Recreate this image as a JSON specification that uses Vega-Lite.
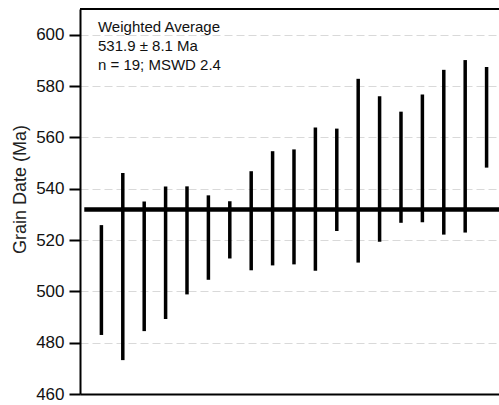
{
  "$schema": "https://vega.github.io/schema/vega-lite/v6.json",
  "autosize": {"type": "none"},
  "padding": {"left": 80, "top": 9, "right": 0, "bottom": 11},
  "width": 419,
  "height": 385,
  "background": "white",
  "config": {
    "view": {"stroke": null},
    "font": "Liberation Sans"
  },
  "datasets": {
    "grains": [
      {"grain": 1, "lo": 483.0, "hi": 525.8},
      {"grain": 2, "lo": 473.2, "hi": 546.1},
      {"grain": 3, "lo": 484.5, "hi": 535.0},
      {"grain": 4, "lo": 489.2, "hi": 540.8},
      {"grain": 5, "lo": 498.8, "hi": 540.9},
      {"grain": 6, "lo": 504.5, "hi": 537.4},
      {"grain": 7, "lo": 512.8, "hi": 535.1},
      {"grain": 8, "lo": 508.2, "hi": 546.8},
      {"grain": 9, "lo": 510.1, "hi": 554.6},
      {"grain": 10, "lo": 510.5, "hi": 555.3},
      {"grain": 11, "lo": 508.0, "hi": 563.8},
      {"grain": 12, "lo": 523.5, "hi": 563.4},
      {"grain": 13, "lo": 511.2, "hi": 582.8},
      {"grain": 14, "lo": 519.3, "hi": 576.0},
      {"grain": 15, "lo": 526.7, "hi": 570.0},
      {"grain": 16, "lo": 526.9, "hi": 576.7},
      {"grain": 17, "lo": 522.1, "hi": 586.3},
      {"grain": 18, "lo": 522.9, "hi": 590.1},
      {"grain": 19, "lo": 548.2, "hi": 587.4}
    ],
    "summary": [
      {"mean": 531.9, "label": ["Weighted Average", "531.9 ± 8.1 Ma", "n = 19; MSWD 2.4"]}
    ]
  },
  "layer": [
    {
      "data": {"name": "grains"},
      "mark": {"type": "rule", "color": "black", "strokeWidth": 3.5, "strokeCap": "butt"},
      "encoding": {
        "x": {
          "field": "grain", "type": "quantitative",
          "scale": {"domain": [0, 19.58], "nice": false, "zero": false},
          "axis": {"title": null, "labels": false, "ticks": false, "grid": false, "domainColor": "black", "domainWidth": 2}
        },
        "y": {
          "field": "lo", "type": "quantitative",
          "scale": {"domain": [460, 610], "nice": false, "zero": false},
          "axis": {
            "title": "Grain Date (Ma)",
            "values": [460, 480, 500, 520, 540, 560, 580, 600],
            "grid": true,
            "gridColor": "#d9d9d9",
            "gridDash": [8, 4],
            "gridWidth": 1,
            "domainColor": "black",
            "domainWidth": 2,
            "tickColor": "black",
            "tickWidth": 2,
            "tickSize": 11,
            "labelFontSize": 17,
            "labelColor": "#111",
            "labelPadding": 5,
            "titleFontSize": 18,
            "titleFontWeight": "normal",
            "titleColor": "#222",
            "titleX": -60,
            "titleY": 180,
            "titleAngle": -90,
            "titleAlign": "center",
            "titleBaseline": "middle"
          }
        },
        "y2": {"field": "hi"}
      }
    },
    {
      "data": {"name": "summary"},
      "mark": {"type": "rule", "color": "black", "strokeWidth": 4.5},
      "encoding": {
        "y": {"field": "mean", "type": "quantitative"},
        "x": {"datum": 0.2},
        "x2": {"datum": 19.58}
      }
    },
    {
      "data": {"name": "summary"},
      "mark": {"type": "text", "align": "left", "baseline": "alphabetic", "fontSize": 15, "lineHeight": 19, "color": "#111", "font": "Liberation Sans"},
      "encoding": {
        "x": {"datum": 0.84},
        "y": {"datum": 601},
        "text": {"field": "label"}
      }
    },
    {
      "data": {"name": "summary"},
      "mark": {"type": "rule", "color": "black", "strokeWidth": 2},
      "encoding": {
        "y": {"datum": 610}
      }
    }
  ]
}
